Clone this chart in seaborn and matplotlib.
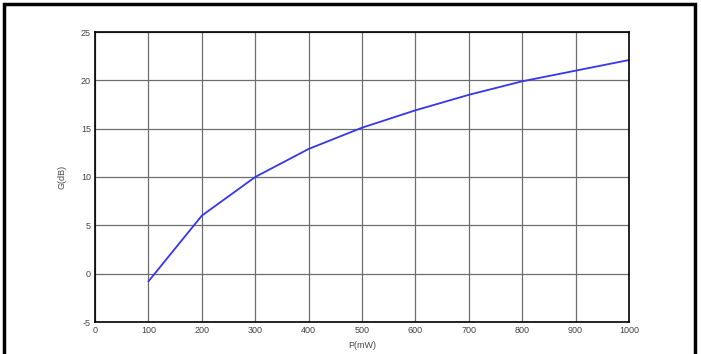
import matplotlib
matplotlib.use("Agg")
import matplotlib.pyplot as plt
import seaborn as sns
import pandas as pd
from matplotlib.patches import Rectangle

power_mw = [100, 200, 300, 400, 500, 600, 700, 800, 900, 1000]
gain_db = [-0.8, 6.0, 10.0, 12.9, 15.1, 16.9, 18.5, 19.9, 21.0, 22.1]
x_ticks = [0, 100, 200, 300, 400, 500, 600, 700, 800, 900, 1000]
y_ticks = [-5, 0, 5, 10, 15, 20, 25]

sns.set_style("white")
plt.rcParams['font.family'] = ['Liberation Sans', 'DejaVu Sans']

df = pd.DataFrame({"P": power_mw, "G": gain_db})

fig = plt.figure(figsize=(7.01, 3.54), dpi=100)
ax = fig.add_axes([95/701, 1-322/354, (629-95)/701, (322-32)/354])

# outer frame
fig.patches.append(Rectangle((4/701, -0.1), (695-4)/701, 1-4/354+0.1,
                             transform=fig.transFigure, fill=False,
                             edgecolor='black', linewidth=2.5, zorder=0))

sns.lineplot(data=df, x="P", y="G", ax=ax, color="#3636ee", linewidth=1.3)

ax.set_xlim(0, 1000)
ax.set_ylim(-5, 25)
ax.set_xticks(x_ticks)
ax.set_yticks(y_ticks)
ax.set_xticklabels([str(v) for v in x_ticks])
ax.set_yticklabels([str(v) for v in y_ticks])
ax.grid(True, color='#6e6e6e', linewidth=0.9, linestyle='-')
ax.set_axisbelow(True)
for s in ax.spines.values():
    s.set_color('black')
    s.set_linewidth(1.2)
ax.tick_params(direction='in', length=3, width=1, colors='black',
               labelcolor='#444444', labelsize=6.5, pad=3)
ax.set_xlabel("P(mW)", fontsize=6.5, color='#444444', labelpad=4)
ax.set_ylabel("G(dB)", fontsize=6.5, color='#444444', labelpad=10)

fig.savefig("out.png", dpi=100)
